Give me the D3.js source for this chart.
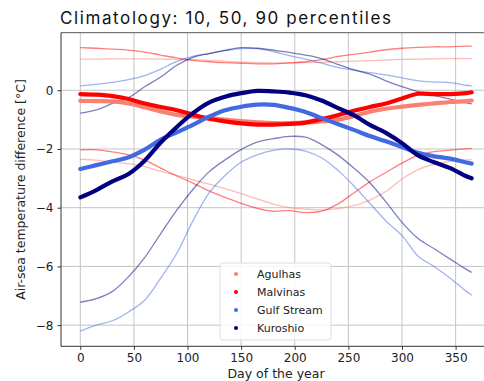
<!DOCTYPE html>
<html>
<head>
<meta charset="utf-8">
<script src="https://cdn.jsdelivr.net/npm/d3@7"></script>
<style>
  body { margin: 0; background: #fff; }
  #chart { width: 484px; height: 381px; overflow: hidden; }
</style>
</head>
<body>
<div id="chart"></div>
<script>
const days = [0, 15, 30, 45, 60, 75, 90, 105, 120, 135, 150, 165, 180, 195, 210, 225, 240, 255, 270, 285, 300, 315, 330, 345, 360, 365];

const regions = ["Agulhas", "Malvinas", "Gulf Stream", "Kuroshio"];

// medians (p50)
const agulhasP50 = [-0.36, -0.37, -0.38, -0.45, -0.58, -0.72, -0.84, -0.9, -0.95, -1.0, -1.05, -1.09, -1.12, -1.12, -1.1, -1.06, -1.0, -0.88, -0.73, -0.63, -0.56, -0.5, -0.45, -0.4, -0.37, -0.35];
const malvinasP50 = [-0.13, -0.15, -0.2, -0.3, -0.45, -0.57, -0.68, -0.83, -0.97, -1.06, -1.13, -1.17, -1.17, -1.15, -1.1, -0.98, -0.85, -0.7, -0.57, -0.45, -0.28, -0.12, -0.13, -0.13, -0.1, -0.07];
const gulfP50 = [-2.68, -2.55, -2.42, -2.28, -2.02, -1.68, -1.43, -1.18, -0.9, -0.68, -0.56, -0.49, -0.5, -0.6, -0.74, -0.95, -1.15, -1.35, -1.56, -1.74, -1.93, -2.13, -2.25, -2.33, -2.46, -2.5];
const kuroshioP50 = [-3.65, -3.4, -3.1, -2.85, -2.4, -1.78, -1.25, -0.78, -0.42, -0.22, -0.1, -0.02, -0.04, -0.08, -0.17, -0.35, -0.6, -0.85, -1.18, -1.45, -1.8, -2.22, -2.45, -2.65, -2.93, -3.0];

// 90th percentiles
const agulhasP90 = [1.06, 1.06, 1.07, 1.07, 1.07, 1.06, 1.05, 1.04, 1.02, 0.99, 0.96, 0.94, 0.93, 0.93, 0.94, 0.95, 0.97, 0.99, 1.01, 1.03, 1.05, 1.06, 1.07, 1.08, 1.08, 1.08];
const malvinasP90 = [1.45, 1.43, 1.4, 1.37, 1.3, 1.2, 1.1, 1.02, 0.97, 0.94, 0.92, 0.9, 0.9, 0.93, 0.97, 1.04, 1.15, 1.22, 1.3, 1.38, 1.43, 1.46, 1.48, 1.48, 1.5, 1.5];
const gulfP90 = [0.15, 0.2, 0.27, 0.36, 0.5, 0.72, 0.98, 1.15, 1.25, 1.35, 1.42, 1.42, 1.32, 1.18, 1.06, 0.92, 0.78, 0.68, 0.6, 0.52, 0.42, 0.32, 0.28, 0.26, 0.17, 0.15];
const kuroshioP90 = [-0.78, -0.67, -0.45, -0.25, 0.12, 0.45, 0.85, 1.12, 1.25, 1.36, 1.45, 1.43, 1.37, 1.29, 1.2, 1.08, 0.88, 0.7, 0.55, 0.32, 0.12, -0.05, -0.18, -0.3, -0.43, -0.46];

// 10th percentiles
const agulhasP10 = [-2.35, -2.38, -2.45, -2.5, -2.6, -2.76, -2.9, -3.05, -3.2, -3.35, -3.52, -3.7, -3.88, -4.0, -4.05, -4.08, -4.03, -3.93, -3.74, -3.45, -3.02, -2.7, -2.52, -2.42, -2.37, -2.36];
const malvinasP10 = [-2.03, -2.03, -2.1, -2.2, -2.38, -2.65, -2.92, -3.16, -3.43, -3.65, -3.85, -4.02, -4.12, -4.1, -4.17, -4.12, -3.88, -3.5, -3.12, -2.8, -2.48, -2.22, -2.09, -2.04, -1.99, -1.98];
const gulfP10 = [-8.2, -8.0, -7.85, -7.55, -7.15, -6.4, -5.55, -4.45, -3.5, -2.9, -2.45, -2.2, -2.05, -2.0, -2.07, -2.3, -2.72, -3.25, -3.85, -4.45, -4.95, -5.65, -6.0, -6.4, -6.85, -6.98];
const kuroshioP10 = [-7.22, -7.1, -6.85, -6.35, -5.7, -4.88, -4.08, -3.38, -2.78, -2.37, -2.02, -1.77, -1.65, -1.57, -1.6, -1.85, -2.2, -2.65, -3.15, -3.8, -4.5, -5.05, -5.4, -5.75, -6.1, -6.2];

const colors = ["#fa8072", "#ff0000", "#4169e1", "#000080"];
const xTicks = [0, 50, 100, 150, 200, 250, 300, 350];
const yTicks = [-8, -6, -4, -2, 0];

const medians = [agulhasP50, malvinasP50, gulfP50, kuroshioP50];
const uppers = [agulhasP90, malvinasP90, gulfP90, kuroshioP90];
const lowers = [agulhasP10, malvinasP10, gulfP10, kuroshioP10];

const W = 484, H = 381;
const plot = { left: 61, right: 491, top: 32.7, bottom: 346.3 };

const svg = d3
  .select("#chart")
  .append("svg")
  .attr("width", W)
  .attr("height", H)
  .style("font-family", "'DejaVu Sans', sans-serif");

const xScale = d3.scaleLinear().domain([-18, 383]).range([plot.left, plot.right]);
const yScale = d3.scaleLinear().domain([-8.72, 1.96]).range([plot.bottom, plot.top]);

// grid
svg
  .append("g")
  .selectAll("line")
  .data(xTicks)
  .join("line")
  .attr("x1", (d) => xScale(d))
  .attr("x2", (d) => xScale(d))
  .attr("y1", plot.top)
  .attr("y2", plot.bottom)
  .attr("stroke", "#c4c4c4")
  .attr("stroke-width", 1);

svg
  .append("g")
  .selectAll("line")
  .data(yTicks)
  .join("line")
  .attr("x1", plot.left)
  .attr("x2", plot.right)
  .attr("y1", (d) => yScale(d))
  .attr("y2", (d) => yScale(d))
  .attr("stroke", "#c4c4c4")
  .attr("stroke-width", 1);

const line = (vals) =>
  d3
    .line()
    .x((d, i) => xScale(days[i]))
    .y((d) => yScale(d))
    .curve(d3.curveCatmullRom.alpha(0.5))(vals);

// percentile lines (thin, transparent)
regions.forEach((r, k) => {
  [uppers[k], lowers[k]].forEach((vals) => {
    svg
      .append("path")
      .attr("d", line(vals))
      .attr("fill", "none")
      .attr("stroke", colors[k])
      .attr("stroke-opacity", 0.5)
      .attr("stroke-width", 1.3);
  });
});

// medians (dense dots -> thick line)
regions.forEach((r, k) => {
  svg
    .append("path")
    .attr("d", line(medians[k]))
    .attr("fill", "none")
    .attr("stroke", colors[k])
    .attr("stroke-width", 4.2)
    .attr("stroke-linecap", "round")
    .attr("stroke-linejoin", "round");
});

// axes
const xAxis = svg
  .append("g")
  .attr("transform", `translate(0,${plot.bottom})`)
  .call(d3.axisBottom(xScale).tickValues(xTicks).tickSize(3.5).tickPadding(4));

const yAxis = svg
  .append("g")
  .attr("transform", `translate(${plot.left},0)`)
  .call(
    d3
      .axisLeft(yScale)
      .tickValues(yTicks)
      .tickSize(3.5)
      .tickPadding(4)
      .tickFormat((d) => (d < 0 ? "\u2212" + Math.abs(d) : d))
  );

[xAxis, yAxis].forEach((ax) => {
  ax.select(".domain").remove();
  ax.selectAll("line").attr("stroke", "#333");
  ax.selectAll("text")
    .attr("fill", "#222")
    .style("font-size", "12px")
    .style("font-family", "'DejaVu Sans', sans-serif");
});

// spines
svg
  .append("line")
  .attr("x1", plot.left).attr("x2", plot.left)
  .attr("y1", plot.top).attr("y2", plot.bottom)
  .attr("stroke", "#333").attr("stroke-width", 1);
svg
  .append("line")
  .attr("x1", plot.left).attr("x2", plot.right)
  .attr("y1", plot.bottom).attr("y2", plot.bottom)
  .attr("stroke", "#333").attr("stroke-width", 1);
svg
  .append("line")
  .attr("x1", plot.left).attr("x2", plot.right)
  .attr("y1", plot.top).attr("y2", plot.top)
  .attr("stroke", "#555").attr("stroke-width", 1);

// labels
svg
  .append("text")
  .attr("x", 60)
  .attr("y", 24)
  .text("Climatology: 10, 50, 90 percentiles")
  .style("font-family", "Inter, 'Open Sans', sans-serif")
  .style("font-size", "17px")
  .style("letter-spacing", "1.6px")
  .attr("fill", "#111");

svg
  .append("text")
  .attr("x", (plot.left + plot.right) / 2)
  .attr("y", 378)
  .attr("text-anchor", "middle")
  .style("font-size", "12.5px")
  .attr("fill", "#222")
  .text("Day of the year");

svg
  .append("text")
  .attr("transform", `translate(25,${(plot.top + plot.bottom) / 2}) rotate(-90)`)
  .attr("text-anchor", "middle")
  .style("font-size", "12.5px")
  .attr("fill", "#222")
  .text("Air-sea temperature difference [°C]");

// legend
const legend = svg.append("g").attr("transform", "translate(220,263)");

legend
  .append("rect")
  .attr("width", 111)
  .attr("height", 77)
  .attr("rx", 3)
  .attr("fill", "#fff")
  .attr("fill-opacity", 0.85)
  .attr("stroke", "#ddd");

legend
  .selectAll("circle")
  .data(regions)
  .join("circle")
  .attr("cx", 16)
  .attr("cy", (d, i) => 11 + i * 18)
  .attr("r", 2)
  .attr("fill", (d, i) => colors[i]);

legend
  .selectAll("text")
  .data(regions)
  .join("text")
  .attr("x", 37)
  .attr("y", (d, i) => 11 + i * 18)
  .attr("dy", "0.35em")
  .style("font-size", "11px")
  .attr("fill", "#222")
  .text((d) => d);
</script>
</body>
</html>
